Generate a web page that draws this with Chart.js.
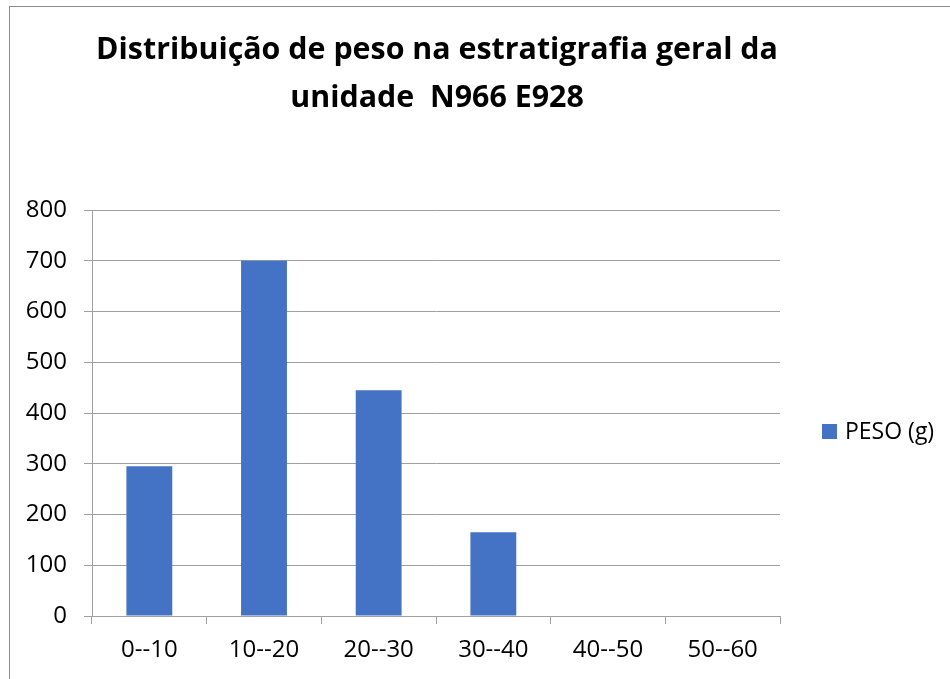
<!DOCTYPE html>
<html>
<head>
<meta charset="utf-8">
<script src="https://cdn.jsdelivr.net/npm/chart.js@4/dist/chart.umd.min.js"></script>
<style>
  html, body { margin: 0; padding: 0; background: #fff; overflow: hidden; }
  #wrap { position: relative; width: 950px; height: 679px; }
  #frame { position: absolute; left: 9px; top: 6px; width: 1200px; height: 1000px; border: 1px solid #8c8c8c; box-sizing: border-box; }
  canvas { position: absolute; left: 0; top: 0; }
</style>
</head>
<body>
<div id="wrap">
  <div id="frame"></div>
  <canvas id="c" width="950" height="679"></canvas>
</div>
<script>
const titleLines = ["Distribuição de peso na estratigrafia geral da", "unidade  N966 E928"];
const categories = ["0--10", "10--20", "20--30", "30--40", "40--50", "50--60"];
const seriesName = "PESO (g)";
const pesoValues = [295, 700, 445, 165, 0, 0];
const yTicks = [0, 100, 200, 300, 400, 500, 600, 700, 800];

const FONT = "'Open Sans', 'Liberation Sans', sans-serif";
const GRID = '#a0a0a0';
const BAR = '#4472c4';

const titlePlugin = {
  id: 'customTitle',
  afterDraw(chart) {
    const ctx = chart.ctx;
    ctx.save();
    ctx.fillStyle = '#000';
    ctx.textAlign = 'center';
    ctx.textBaseline = 'alphabetic';
    let size = 25;
    ctx.font = `bold ${size}px ${FONT}`;
    const w = ctx.measureText(titleLines[0]).width;
    size = size * 682 / w;
    ctx.font = `bold ${size}px ${FONT}`;
    ctx.fillText(titleLines[0], 437, 59);
    ctx.fillText(titleLines[1], 437, 107);
    ctx.restore();
  }
};

const legendPlugin = {
  id: 'customLegend',
  afterDraw(chart) {
    const ctx = chart.ctx;
    const ds = chart.data.datasets[0];
    ctx.save();
    ctx.fillStyle = ds.backgroundColor;
    ctx.fillRect(822, 424, 15, 15);
    ctx.fillStyle = '#000';
    ctx.font = `23px ${FONT}`;
    ctx.textAlign = 'left';
    ctx.textBaseline = 'alphabetic';
    ctx.fillText(ds.label, 845, 439);
    ctx.restore();
  }
};

new Chart(document.getElementById('c'), {
  type: 'bar',
  data: {
    labels: categories,
    datasets: [{
      label: seriesName,
      data: pesoValues,
      backgroundColor: BAR,
      borderWidth: 0,
      barPercentage: 0.4,
      categoryPercentage: 1.0
    }]
  },
  options: {
    responsive: false,
    animation: false,
    devicePixelRatio: 1,
    layout: { padding: { left: 0, right: 170, top: 210, bottom: 0 } },
    plugins: {
      legend: { display: false },
      title: { display: false },
      tooltip: { enabled: false }
    },
    scales: {
      x: {
        afterFit(scale) { scale.height = 63; },
        grid: { display: true, offset: true, drawOnChartArea: false, drawTicks: true, tickLength: 8, color: GRID, lineWidth: 1 },
        border: { display: true, color: GRID, width: 1 },
        ticks: { color: '#000', font: { family: FONT, size: 24 }, padding: 12, maxRotation: 0, autoSkip: false }
      },
      y: {
        min: 0,
        max: 800,
        afterFit(scale) { scale.width = 92; },
        afterBuildTicks(scale) { scale.ticks = yTicks.map(v => ({ value: v })); },
        grid: { color: GRID, lineWidth: 1, drawTicks: true, tickLength: 8 },
        border: { display: true, color: GRID, width: 1 },
        ticks: { color: '#000', font: { family: FONT, size: 24 }, padding: 17 }
      }
    }
  },
  plugins: [titlePlugin, legendPlugin]
});
</script>
</body>
</html>
